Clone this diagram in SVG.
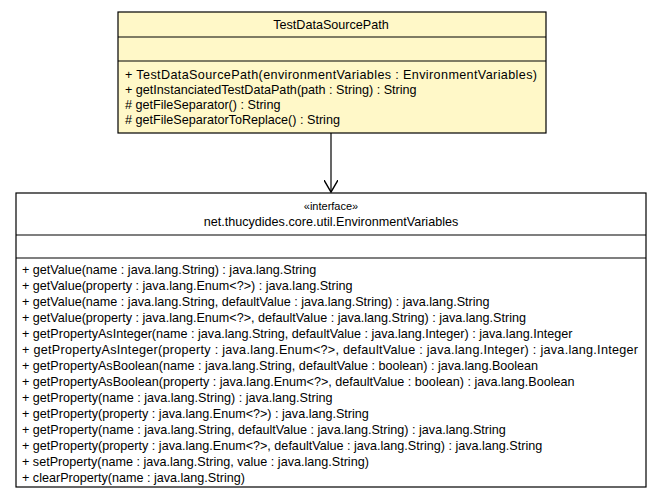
<svg xmlns="http://www.w3.org/2000/svg" width="664" height="501" viewBox="0 0 664 501">
<style>
text{font-family:"Liberation Sans",Arial,sans-serif;font-size:12.6px;fill:#000}
.c{text-anchor:middle}
.box{stroke:#000;stroke-width:1.2}
</style>
<defs><marker id="a" markerWidth="14" markerHeight="14" refX="12" refY="7" orient="auto" markerUnits="userSpaceOnUse"><path d="M0,0 L12,7 L0,14" fill="none" stroke="#000" stroke-width="1.4"/></marker></defs>
<rect width="664" height="501" fill="#fff"/>
<g id="connectors"><line x1="331" y1="133" x2="331" y2="192" stroke="#000" stroke-width="1.2" marker-end="url(#a)"/></g>
<g id="TestDataSourcePath">
<rect class="box" x="118" y="12" width="428" height="121" fill="#fff8c8"/>
<line class="box" x1="118" y1="37" x2="546" y2="37"/>
<line class="box" x1="118" y1="61" x2="546" y2="61"/>
<text class="c" x="331" y="29">TestDataSourcePath</text>
<text x="125" y="79" textLength="412">+ TestDataSourcePath(environmentVariables : EnvironmentVariables)</text>
<text x="125" y="94">+ getInstanciatedTestDataPath(path : String) : String</text>
<text x="125" y="109"># getFileSeparator() : String</text>
<text x="125" y="124"># getFileSeparatorToReplace() : String</text>
</g>
<g id="EnvironmentVariables">
<rect class="box" x="16" y="193" width="630" height="294" fill="#fff"/>
<line class="box" x1="16" y1="235" x2="646" y2="235"/>
<line class="box" x1="16" y1="258" x2="646" y2="258"/>
<text class="c" x="331" y="210" style="font-size:11px">«interface»</text>
<text class="c" x="331" y="226">net.thucydides.core.util.EnvironmentVariables</text>
<g transform="translate(22,0)">
<text y="274">+ getValue(name : java.lang.String) : java.lang.String</text>
<text y="290">+ getValue(property : java.lang.Enum&lt;?&gt;) : java.lang.String</text>
<text y="306">+ getValue(name : java.lang.String, defaultValue : java.lang.String) : java.lang.String</text>
<text y="322">+ getValue(property : java.lang.Enum&lt;?&gt;, defaultValue : java.lang.String) : java.lang.String</text>
<text y="338">+ getPropertyAsInteger(name : java.lang.String, defaultValue : java.lang.Integer) : java.lang.Integer</text>
<text y="354" textLength="616">+ getPropertyAsInteger(property : java.lang.Enum&lt;?&gt;, defaultValue : java.lang.Integer) : java.lang.Integer</text>
<text y="370">+ getPropertyAsBoolean(name : java.lang.String, defaultValue : boolean) : java.lang.Boolean</text>
<text y="386">+ getPropertyAsBoolean(property : java.lang.Enum&lt;?&gt;, defaultValue : boolean) : java.lang.Boolean</text>
<text y="402">+ getProperty(name : java.lang.String) : java.lang.String</text>
<text y="418">+ getProperty(property : java.lang.Enum&lt;?&gt;) : java.lang.String</text>
<text y="434">+ getProperty(name : java.lang.String, defaultValue : java.lang.String) : java.lang.String</text>
<text y="450">+ getProperty(property : java.lang.Enum&lt;?&gt;, defaultValue : java.lang.String) : java.lang.String</text>
<text y="466">+ setProperty(name : java.lang.String, value : java.lang.String)</text>
<text y="482">+ clearProperty(name : java.lang.String)</text>
</g>
</g>
</svg>
